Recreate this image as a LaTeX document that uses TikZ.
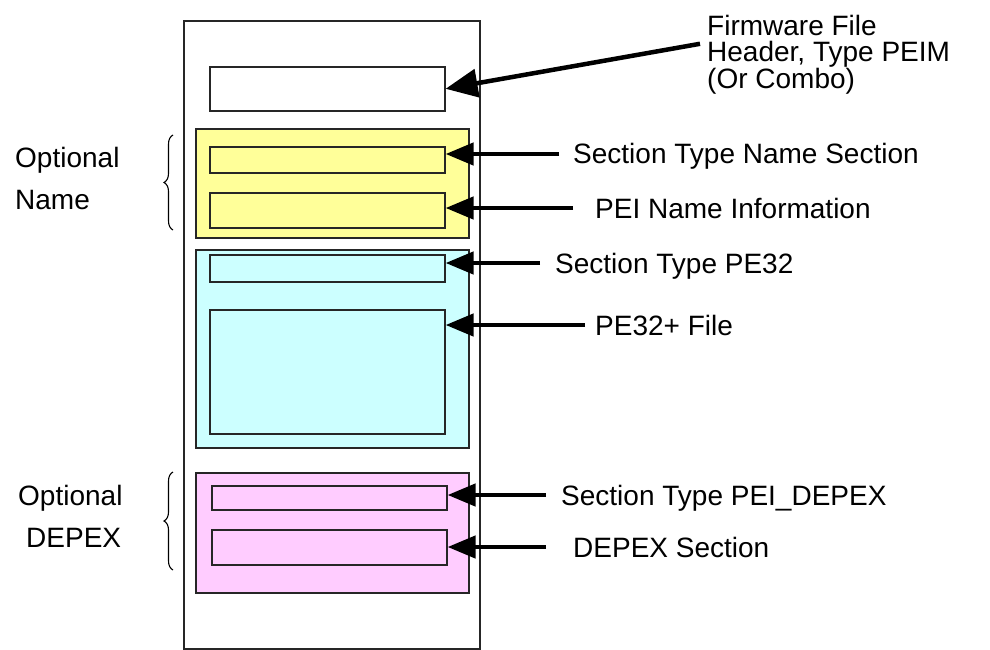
\documentclass[tikz,border=0pt]{standalone}
\usepackage{fontspec}
\setmainfont{Liberation Sans}
\usetikzlibrary{arrows.meta,positioning,decorations.pathreplacing}
\definecolor{hellgelb}{HTML}{FFFF99}
\definecolor{hellcyan}{HTML}{CCFFFF}
\definecolor{hellrosa}{HTML}{FFCCFF}
\tikzset{
    %Define style for boxes
    kasten/.style={
           rectangle,
           anchor=north west,
           draw=black!85, line width=1.6pt,
           inner sep=0pt},
    % Define arrow style
    pfeil/.style={
	   -{Triangle[length=28pt,width=22pt]},
	   line width=4.5pt},
    % Define label styles
    etikett/.style={anchor=west,inner xsep=14pt,inner ysep=0pt,
           text height=20pt,text depth=0pt,font=\fontsize{28}{26}\selectfont},
    seite/.style={anchor=north west,inner sep=0pt,align=left,font=\fontsize{28}{42}\selectfont},
    klammer/.style={decorate,decoration={brace,amplitude=9pt},line width=1.1pt}
}

\begin{document}
\begin{tikzpicture}[x=1pt,y=-1pt]
  \useasboundingbox (0,0) rectangle (990,650);
  % file and sections
  \node[kasten,minimum width=296pt,minimum height=628pt] (datei) at (183,20) {};
  \node[kasten,minimum width=235pt,minimum height=44pt] (kopf) at (209,66) {};
  \node[kasten,fill=hellgelb,minimum width=273pt,minimum height=109pt] (namebox) at (195,128) {};
  \node[kasten,fill=hellgelb,minimum width=235pt,minimum height=26pt] (nametyp) at (209,146) {};
  \node[kasten,fill=hellgelb,minimum width=235pt,minimum height=35pt] (nameinfo) at (209,192) {};
  \node[kasten,fill=hellcyan,minimum width=273pt,minimum height=198pt] (pebox) at (195,249) {};
  \node[kasten,fill=hellcyan,minimum width=235pt,minimum height=27pt] (petyp) at (209,254) {};
  \node[kasten,fill=hellcyan,minimum width=235pt,minimum height=124pt] (pedatei) at (209,309) {};
  \node[kasten,fill=hellrosa,minimum width=273pt,minimum height=120pt] (depexbox) at (195,472) {};
  \node[kasten,fill=hellrosa,minimum width=235pt,minimum height=24pt] (depextyp) at (211,485) {};
  \node[kasten,fill=hellrosa,minimum width=235pt,minimum height=35pt] (depexsek) at (211,529) {};
  % labels
  \node[anchor=north west,inner sep=0pt,align=left,font=\fontsize{28}{26}\selectfont]
    (l-kopf) at (707,15) {Firmware File\\Header, Type PEIM\\(Or Combo)};
  \node[etikett] (l-nametyp) at (559,154) {Section Type Name Section};
  \node[etikett,inner xsep=22pt] (l-nameinfo) at (573,208) {PEI Name Information};
  \node[etikett,inner xsep=15pt] (l-petyp) at (540,263) {Section Type PE32};
  \node[etikett,inner xsep=10pt] (l-pedatei) at (585,325) {PE32+ File};
  \node[etikett,inner xsep=15pt] (l-depextyp) at (546,495) {Section Type PEI\_DEPEX};
  \node[etikett,inner xsep=27pt] (l-depexsek) at (546,547) {DEPEX Section};
  \node[seite] (opt-name) at (15,147) {Optional\\Name};
  \node[seite] (opt-depex) at (18,485) {Optional\\\hspace*{8pt}DEPEX};
  % arrows
  \draw[pfeil,-{Triangle[length=32pt,width=28pt]}] ([xshift=-7pt,yshift=11pt]l-kopf.west) -- (kopf.east);
  \foreach \quelle/\ziel in {l-nametyp/nametyp,l-nameinfo/nameinfo,l-petyp/petyp,
      l-pedatei/pedatei,l-depextyp/depextyp,l-depexsek/depexsek}
    \draw[pfeil] (\quelle.west) -- (\quelle.west -| \ziel.east);
  % braces
  \draw[klammer] (173,230) -- (173,135);
  \draw[klammer] (173,570) -- (173,472);
\end{tikzpicture}
\end{document}
